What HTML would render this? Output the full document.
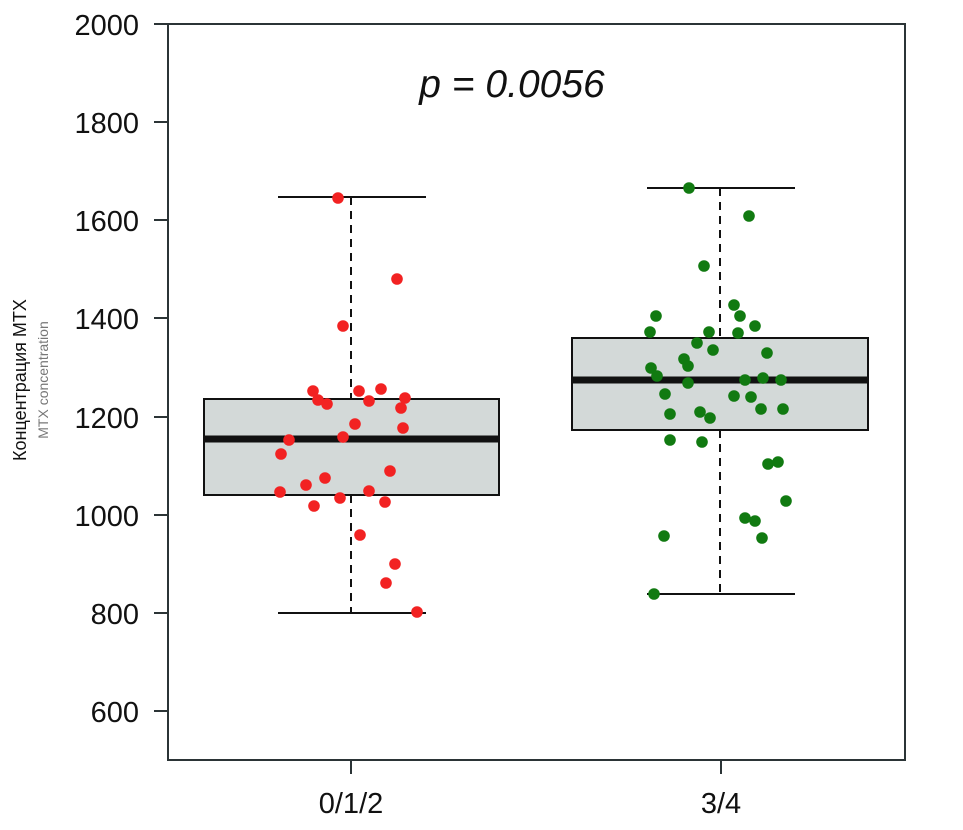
<!DOCTYPE html><html><head><meta charset="utf-8"><style>body{margin:0;background:#fff}</style></head><body>
<svg width="963" height="825" xmlns="http://www.w3.org/2000/svg" font-family="Liberation Sans, sans-serif">
<g stroke="#2b3436" stroke-width="2" fill="none">
<rect x="168" y="24" width="737" height="736"/>
<path d="M154 24H168M154 122H168M154 220H168M154 318H168M154 417H168M154 515H168M154 613H168M154 711H168M351 760V774M721 760V774"/>
</g>
<g font-size="29" fill="#111" text-anchor="end">
<text x="139" y="35">2000</text><text x="139" y="133">1800</text><text x="139" y="231">1600</text><text x="139" y="329">1400</text><text x="139" y="428">1200</text><text x="139" y="526">1000</text><text x="139" y="624">800</text><text x="139" y="722">600</text>
</g>
<g font-size="29" fill="#111" text-anchor="middle"><text x="351" y="813">0/1/2</text><text x="721" y="813">3/4</text></g>
<text x="512" y="97" font-size="39" font-style="italic" text-anchor="middle" fill="#111">p = 0.0056</text>
<text transform="translate(26,380) rotate(-90)" font-size="18" text-anchor="middle" fill="#111">Концентрация МТХ</text>
<text transform="translate(48,380) rotate(-90)" font-size="14" text-anchor="middle" fill="#777">MTX concentration</text>
<g stroke="#111" stroke-width="2">
<path d="M351 197V399M351 495V613" stroke-dasharray="8,6"/>
<path d="M278 197H426M278 613H426"/>
<rect x="204" y="399" width="295" height="96" fill="#d3d9d8"/>
<path d="M204 439H499" stroke-width="7"/>
<path d="M720 188V338M720 430V594" stroke-dasharray="8,6"/>
<path d="M647 188H795M647 594H795"/>
<rect x="572" y="338" width="296" height="92" fill="#d3d9d8"/>
<path d="M572 380H868" stroke-width="7"/>
</g>
<g fill="#f22222">
<circle cx="338" cy="198" r="5.8"/><circle cx="397" cy="279" r="5.8"/><circle cx="343" cy="326" r="5.8"/><circle cx="313" cy="391" r="5.8"/><circle cx="359" cy="391" r="5.8"/><circle cx="381" cy="389" r="5.8"/><circle cx="318" cy="400" r="5.8"/><circle cx="327" cy="404" r="5.8"/><circle cx="405" cy="398" r="5.8"/><circle cx="369" cy="401" r="5.8"/><circle cx="401" cy="408" r="5.8"/><circle cx="355" cy="424" r="5.8"/><circle cx="289" cy="440" r="5.8"/><circle cx="343" cy="437" r="5.8"/><circle cx="403" cy="428" r="5.8"/><circle cx="281" cy="454" r="5.8"/><circle cx="390" cy="471" r="5.8"/><circle cx="306" cy="485" r="5.8"/><circle cx="325" cy="478" r="5.8"/><circle cx="280" cy="492" r="5.8"/><circle cx="340" cy="498" r="5.8"/><circle cx="369" cy="491" r="5.8"/><circle cx="385" cy="502" r="5.8"/><circle cx="314" cy="506" r="5.8"/><circle cx="360" cy="535" r="5.8"/><circle cx="395" cy="564" r="5.8"/><circle cx="386" cy="583" r="5.8"/><circle cx="417" cy="612" r="5.8"/>
</g>
<g fill="#117a11">
<circle cx="689" cy="188" r="5.8"/><circle cx="749" cy="216" r="5.8"/><circle cx="704" cy="266" r="5.8"/><circle cx="656" cy="316" r="5.8"/><circle cx="734" cy="305" r="5.8"/><circle cx="650" cy="332" r="5.8"/><circle cx="709" cy="332" r="5.8"/><circle cx="740" cy="316" r="5.8"/><circle cx="697" cy="343" r="5.8"/><circle cx="738" cy="333" r="5.8"/><circle cx="755" cy="326" r="5.8"/><circle cx="713" cy="350" r="5.8"/><circle cx="684" cy="359" r="5.8"/><circle cx="688" cy="366" r="5.8"/><circle cx="651" cy="368" r="5.8"/><circle cx="767" cy="353" r="5.8"/><circle cx="657" cy="376" r="5.8"/><circle cx="745" cy="380" r="5.8"/><circle cx="763" cy="378" r="5.8"/><circle cx="781" cy="380" r="5.8"/><circle cx="688" cy="383" r="5.8"/><circle cx="665" cy="394" r="5.8"/><circle cx="734" cy="396" r="5.8"/><circle cx="751" cy="397" r="5.8"/><circle cx="700" cy="412" r="5.8"/><circle cx="670" cy="414" r="5.8"/><circle cx="710" cy="418" r="5.8"/><circle cx="761" cy="409" r="5.8"/><circle cx="783" cy="409" r="5.8"/><circle cx="670" cy="440" r="5.8"/><circle cx="702" cy="442" r="5.8"/><circle cx="768" cy="464" r="5.8"/><circle cx="778" cy="462" r="5.8"/><circle cx="786" cy="501" r="5.8"/><circle cx="745" cy="518" r="5.8"/><circle cx="755" cy="521" r="5.8"/><circle cx="762" cy="538" r="5.8"/><circle cx="664" cy="536" r="5.8"/><circle cx="654" cy="594" r="5.8"/>
</g>
</svg></body></html>
